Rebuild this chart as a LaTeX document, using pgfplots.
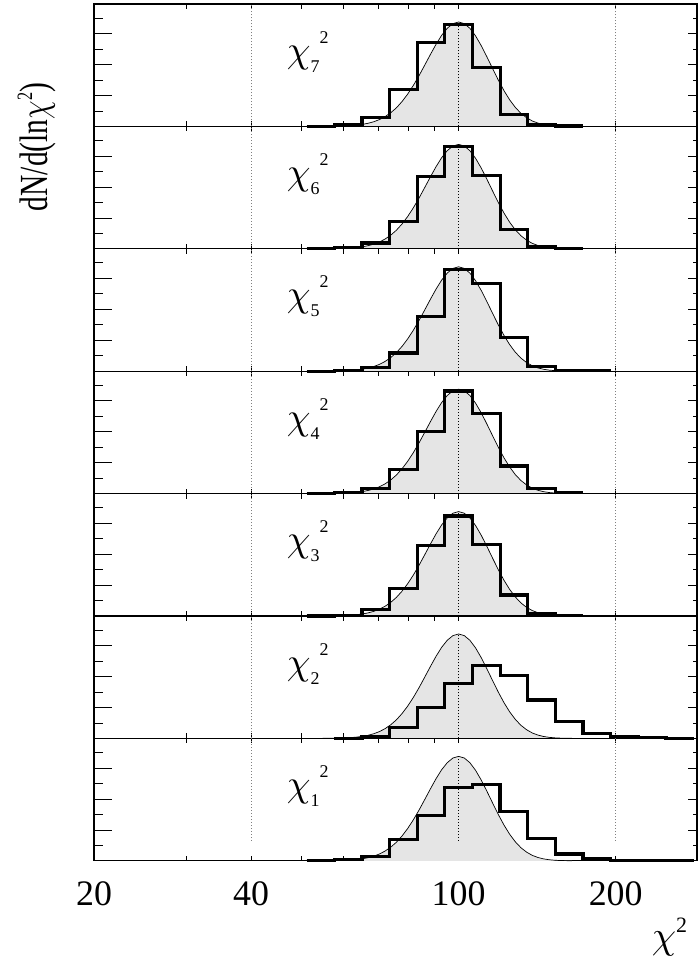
\documentclass[border=0pt]{standalone}
\usepackage{graphicx}
\usepackage{fontspec}
\setmainfont{Liberation Serif}
\usepackage{pgfplots}
\usepackage{pgfplotstable}
\pgfplotsset{compat=1.18}

% ln-chi2 density curve (same in every panel)
\pgfplotstableread{
x y
54.88 0.002
57.70 0.006
60.65 0.016
62.19 0.027
63.76 0.042
65.38 0.066
67.03 0.100
68.73 0.150
70.47 0.219
72.25 0.313
74.08 0.438
75.96 0.598
77.88 0.799
79.85 1.040
81.87 1.321
83.95 1.635
86.07 1.973
88.25 2.316
90.48 2.646
92.77 2.939
95.12 3.169
97.53 3.318
100.00 3.370
102.53 3.317
105.13 3.163
107.79 2.917
110.52 2.602
113.31 2.242
116.18 1.865
119.12 1.496
122.14 1.156
125.23 0.860
128.40 0.615
131.65 0.422
134.99 0.279
138.40 0.176
141.91 0.107
145.50 0.062
149.18 0.034
152.96 0.018
156.83 0.009
164.87 0.002
}\gauss

% histograms: left bin edge, content (last row = right edge)
\pgfplotstableread{
x y
51.12 0.005
57.75 0.05
65.25 0.30
73.71 1.19
83.28 2.70
94.08 3.28
106.29 1.91
120.08 0.38
135.66 0.06
153.27 0.01
173.15 0.01
}\hseven
\pgfplotstableread{
x y
51.12 0.005
57.75 0.03
65.25 0.19
73.71 0.89
83.28 2.33
94.08 3.31
106.29 2.36
120.08 0.63
135.66 0.07
153.27 0.015
173.15 0.015
}\hsix
\pgfplotstableread{
x y
51.12 0.0
57.75 0.03
65.25 0.11
73.71 0.59
83.28 1.76
94.08 3.27
106.29 2.84
120.08 1.08
135.66 0.15
153.27 0.03
173.15 0.01
195.62 0.01
}\hfive
\pgfplotstableread{
x y
51.12 0.0
57.75 0.03
65.25 0.16
73.71 0.77
83.28 2.01
94.08 3.31
106.29 2.58
120.08 0.89
135.66 0.16
153.27 0.03
173.15 0.03
}\hfour
\pgfplotstableread{
x y
51.12 0.0
57.75 0.02
65.25 0.22
73.71 0.89
83.28 2.28
94.08 3.23
106.29 2.31
120.08 0.68
135.66 0.07
153.27 0.01
173.15 0.01
}\hthree
\pgfplotstableread{
x y
57.75 0.01
65.25 0.05
73.71 0.35
83.28 1.00
94.08 1.77
106.29 2.36
120.08 2.04
135.66 1.24
153.27 0.54
173.15 0.16
195.62 0.05
221.00 0.02
249.68 0.01
282.08 0.01
}\htwo
\pgfplotstableread{
x y
51.12 0.01
57.75 0.04
65.25 0.15
73.71 0.69
83.28 1.46
94.08 2.36
106.29 2.45
120.08 1.59
135.66 0.71
153.27 0.22
173.15 0.06
195.62 0.02
221.00 0.01
249.68 0.005
282.08 0.005
}\hone

\newcommand\ltick[2]{(axis cs:20,#1) -- ([xshift=#2]axis cs:20,#1)}
\newcommand\rtick[2]{(axis cs:286.4,#1) -- ([xshift=-#2]axis cs:286.4,#1)}
\newcommand\bigchi[1]{\scalebox{#1}{\normalsize$\chi$}}

% #1 top, #2 histogram, #3 index, #4 lower end of the grid lines, #5 extra options
\newcommand\panel[5]{%
\begin{axis}[
    at={(94bp,#1)}, anchor=north west, scale only axis,
    width=603bp, height=122.4bp,
    xmode=log, xmin=20, xmax=286.4, ymin=0, ymax=3.95,
    xtick={20,30,40,50,60,70,80,90,100,200}, xticklabels={},
    minor x tick num=0,
    xtick pos=both, tick align=inside, major tick length=5bp,
    ytick=\empty, minor ytick={0.0833,0.1667,...,3.92}, ytick pos=left,
    minor tick length=3.5bp,
    axis line style={line width=1.1bp},
    every tick/.style={black, line width=0.6bp},
    clip=false, #5]
\addplot[fill=gray!20, draw=none] table {\gauss} \closedcycle;
\addplot[gray, line width=0.6bp, dash pattern=on 1bp off 2bp] coordinates {(40,#4) (40,3.95)};
\addplot[gray, line width=0.6bp, dash pattern=on 1bp off 2bp] coordinates {(200,#4) (200,3.95)};
\addplot[black, line width=0.6bp, dash pattern=on 1bp off 2bp] coordinates {(100,#4) (100,3.37)};
\addplot[black, line width=0.7bp] table {\gauss};
\addplot[const plot, black, line width=3.2bp] table {#2};
\draw[line width=0.6bp] \ltick{1}{18bp} \ltick{2}{18bp} \ltick{3}{18bp}
  \ltick{0.5}{9bp} \ltick{1.5}{9bp} \ltick{2.5}{9bp} \ltick{3.5}{9bp};
\draw[line width=0.6bp] \rtick{1}{9bp} \rtick{2}{9bp} \rtick{3}{9bp}
  \rtick{0.5}{4.5bp} \rtick{1.5}{4.5bp} \rtick{2.5}{4.5bp} \rtick{3.5}{4.5bp};
\node[anchor=base west, inner sep=0pt] at (rel axis cs:0.3196,0.526)
  {\bigchi{3.8}\raisebox{-10bp}{\fontsize{18}{20}\selectfont #3}\raisebox{19bp}{\fontsize{18}{20}\selectfont 2}};
\end{axis}}

\begin{document}
\begin{tikzpicture}
\path[use as bounding box] (0,0) rectangle (698bp,-959bp);
\panel{-4bp}{\hseven}{7}{0}{}
\panel{-126.4bp}{\hsix}{6}{0}{}
\panel{-248.8bp}{\hfive}{5}{0}{}
\panel{-371.2bp}{\hfour}{4}{0}{}
\panel{-493.6bp}{\hthree}{3}{0}{}
\panel{-616bp}{\htwo}{2}{0}{}
\panel{-738.4bp}{\hone}{1}{0.65}{xticklabels={20,,40,,,,,,100,200},
  xticklabel style={font=\fontsize{36}{40}\selectfont, inner sep=0pt, yshift=-21bp}}
\node[rotate=90, anchor=base, inner sep=0pt] at (47bp,-147bp)
  {\scalebox{0.74}[1]{\fontsize{40}{44}\selectfont dN/d(ln\bigchi{4.0}\raisebox{15bp}{\fontsize{22}{24}\selectfont 2})}};
\node[anchor=base west, inner sep=0pt] at (651.7bp,-948bp)
  {\bigchi{3.9}\raisebox{16bp}{\fontsize{22}{24}\selectfont 2}};
\end{tikzpicture}
\end{document}
